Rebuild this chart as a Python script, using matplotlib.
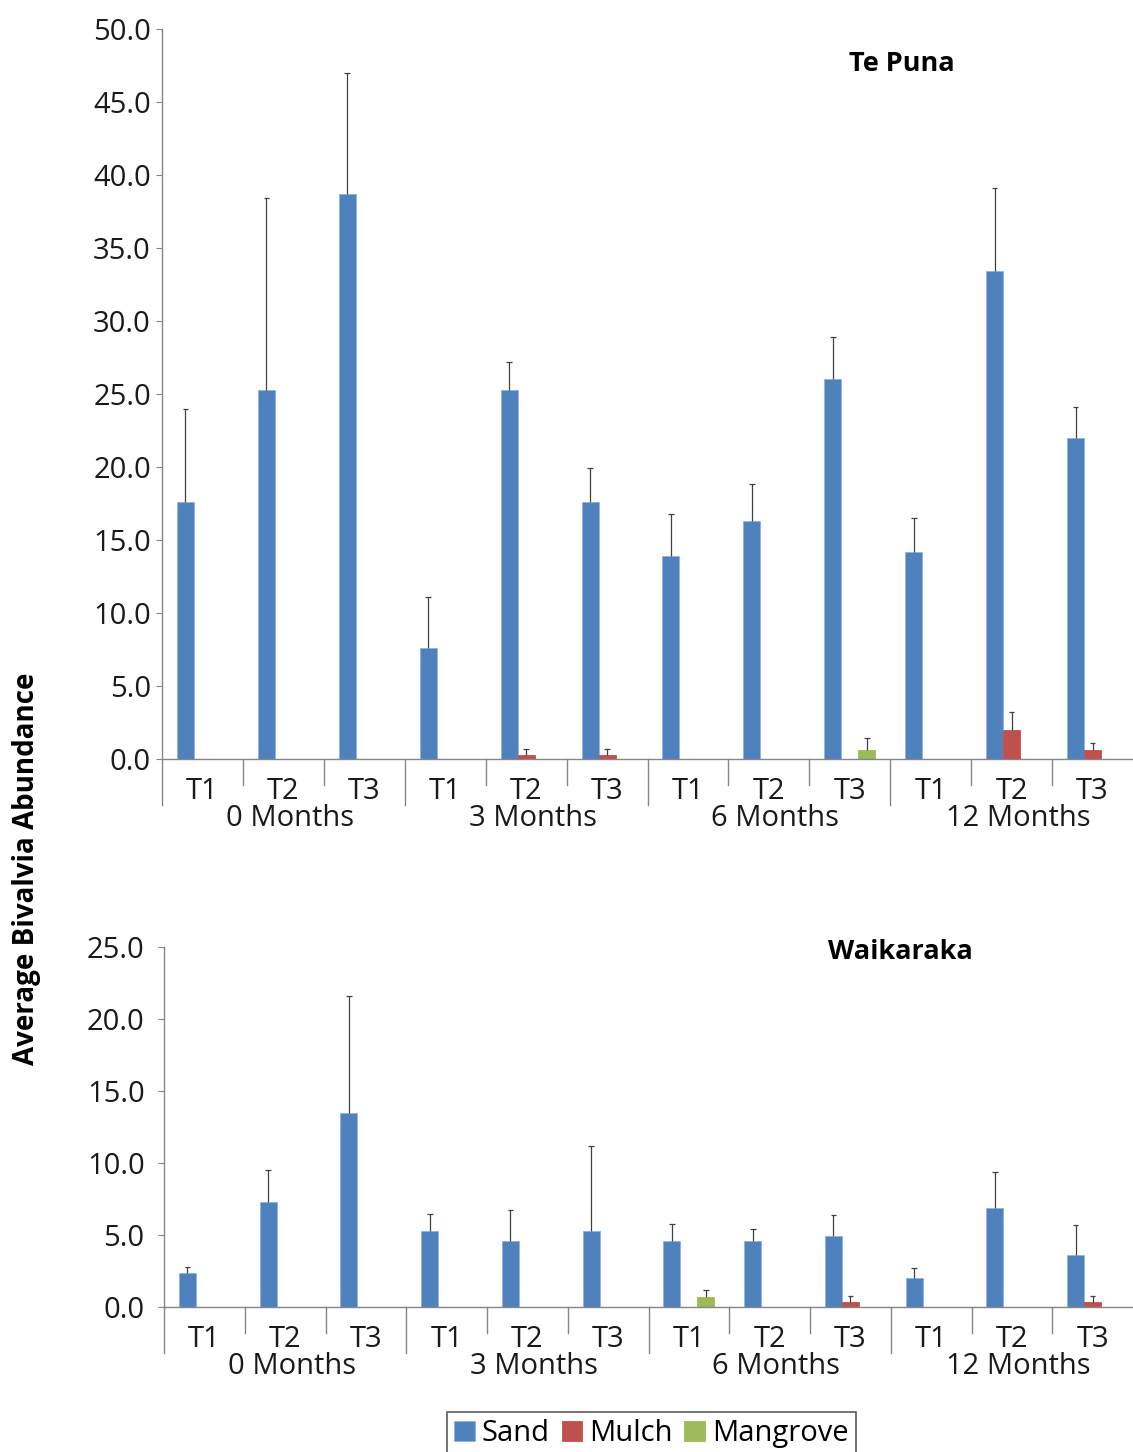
import matplotlib.pyplot as plt
import numpy as np
from matplotlib.transforms import blended_transform_factory

plt.rcParams['font.family'] = ['Open Sans', 'DejaVu Sans']

months = ["0 Months", "3 Months", "6 Months", "12 Months"]
transects = ["T1", "T2", "T3"] * 4
treatments = ["Sand", "Mulch", "Mangrove"]
colors = ["#4F81BD", "#C0504D", "#9BBB59"]

# Te Puna: mean abundance and standard error per transect
tp_sand = [17.6, 25.3, 38.7, 7.6, 25.3, 17.6, 13.9, 16.3, 26.0, 14.2, 33.4, 22.0]
tp_sand_err = [6.4, 13.1, 8.3, 3.5, 1.9, 2.3, 2.9, 2.5, 2.9, 2.3, 5.7, 2.1]
tp_mulch = [0, 0, 0, 0, 0.3, 0.3, 0, 0, 0, 0, 2.0, 0.6]
tp_mulch_err = [0, 0, 0, 0, 0.4, 0.4, 0, 0, 0, 0, 1.2, 0.5]
tp_mangrove = [0, 0, 0, 0, 0, 0, 0, 0, 0.6, 0, 0, 0]
tp_mangrove_err = [0, 0, 0, 0, 0, 0, 0, 0, 0.85, 0, 0, 0]

# Waikaraka
wk_sand = [2.35, 7.3, 13.5, 5.3, 4.6, 5.3, 4.6, 4.6, 4.9, 2.0, 6.9, 3.6]
wk_sand_err = [0.45, 2.2, 8.1, 1.15, 2.1, 5.9, 1.15, 0.8, 1.5, 0.7, 2.5, 2.1]
wk_mulch = [0, 0, 0, 0, 0, 0, 0, 0, 0.35, 0, 0, 0.35]
wk_mulch_err = [0, 0, 0, 0, 0, 0, 0, 0, 0.4, 0, 0, 0.4]
wk_mangrove = [0, 0, 0, 0, 0, 0, 0.7, 0, 0, 0, 0, 0]
wk_mangrove_err = [0, 0, 0, 0, 0, 0, 0.5, 0, 0, 0, 0, 0]

fig = plt.figure(figsize=(11.33, 14.52), dpi=100)
ax_top = fig.add_axes([0.143, 0.4773, 0.857, 0.5028])
ax_bot = fig.add_axes([0.1448, 0.0999, 0.8552, 0.2479])

axis_grey = "#868686"
err_grey = "#404040"
text_col = "#1a1a1a"
fs = 21


def draw_panel(ax, title, series, errors, ymax, title_pos, ypad):
    x = np.arange(len(transects))
    w = 0.21
    for k, (vals, err) in enumerate(zip(series, errors)):
        vals = np.array(vals)
        err = np.array(err)
        xs = x + (k - 1) * w
        ax.bar(xs, vals, w, color=colors[k], edgecolor="#8EB4E3" if k == 0 else colors[k],
               linewidth=0.6, label=treatments[k], zorder=2)
        m = err > 0
        ax.vlines(xs[m], vals[m], vals[m] + err[m], color=err_grey, lw=0.9, zorder=3)
        ax.hlines(vals[m] + err[m], xs[m] - 0.035, xs[m] + 0.035, color=err_grey, lw=0.9, zorder=3)

    ax.set_xlim(-0.5, len(transects) - 0.5)
    ax.set_ylim(0, ymax)
    ticks = np.arange(0, ymax + 0.1, 5)
    ax.set_yticks(ticks)
    ax.set_yticklabels([f"{v:.1f}" for v in ticks])
    ax.tick_params(axis="y", direction="out", length=4, color=axis_grey, labelsize=fs,
                   pad=ypad, labelcolor=text_col)
    ax.set_xticks(x)
    ax.set_xticklabels(transects)
    ax.tick_params(axis="x", length=0, labelsize=fs, pad=13, labelcolor=text_col)

    for s in ["top", "right"]:
        ax.spines[s].set_visible(False)
    for s in ["left", "bottom"]:
        ax.spines[s].set_color(axis_grey)
        ax.spines[s].set_linewidth(1.0)

    # category separators below the axis
    h_px = ax.get_position().height * fig.get_figheight() * fig.dpi
    trans = blended_transform_factory(ax.transData, ax.transAxes)
    for b in np.arange(-0.5, len(transects) - 0.5, 1):
        long_tick = (b + 0.5) % 3 == 0
        depth = (46 if long_tick else 26) / h_px
        ax.plot([b, b], [0, -depth], transform=trans, color=axis_grey, lw=1.0,
                clip_on=False)
    for i, mlabel in enumerate(months):
        ax.text(3 * i + 1.08, -60 / h_px, mlabel, transform=trans, ha="center", va="center",
                fontsize=fs, color=text_col)

    ax.text(title_pos[0], title_pos[1], title, transform=ax.transAxes, ha="center",
            va="center", fontsize=19.5, fontweight="bold")


draw_panel(ax_top, "Te Puna", [tp_sand, tp_mulch, tp_mangrove],
           [tp_sand_err, tp_mulch_err, tp_mangrove_err], 50, (0.762, 0.952), 4)
draw_panel(ax_bot, "Waikaraka", [wk_sand, wk_mulch, wk_mangrove],
           [wk_sand_err, wk_mulch_err, wk_mangrove_err], 25, (0.76, 0.986), 10)

fig.text(0.023, 0.402, "Average Bivalvia Abundance", rotation=90, ha="center", va="center",
         fontsize=20, fontweight="bold")

handles, labels = ax_top.get_legend_handles_labels()
leg = fig.legend(handles, labels, loc="center", bbox_to_anchor=(0.575, 0.0125), ncol=3,
                 fontsize=fs, frameon=True, fancybox=False, handlelength=0.7,
                 handleheight=0.7, handletextpad=0.25, columnspacing=0.4,
                 borderpad=0.25)
leg.get_frame().set_edgecolor("#333333")
leg.get_frame().set_linewidth(1.2)

fig.savefig("out.png", dpi=100)
